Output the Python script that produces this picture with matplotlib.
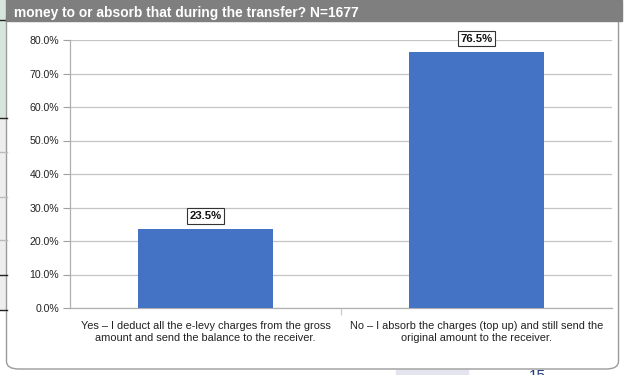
import matplotlib.pyplot as plt
from matplotlib.patches import Rectangle, FancyBboxPatch

plt.rcParams['font.family'] = ['Liberation Sans', 'DejaVu Sans']

# data
categories = ["Yes \u2013 I deduct all the e-levy charges from the gross\namount and send the balance to the receiver.",
              "No \u2013 I absorb the charges (top up) and still send the\noriginal amount to the receiver."]
values = [23.5, 76.5]
yticks = [0, 10, 20, 30, 40, 50, 60, 70, 80]
title = "money to or absorb that during the transfer? N=1677"

W, H = 624, 375
fig = plt.figure(figsize=(6.24, 3.75), dpi=100)

def px(x, y, w, h):
    # pixel box (top-left origin) -> figure fraction
    return (x / W, 1 - (y + h) / H, w / W, h / H)

# left slide strip
x0, y0, w0, h0 = px(0, 0, 7, 118)
fig.patches.append(Rectangle((x0, y0), w0, h0, transform=fig.transFigure, color="#d7e6dc", zorder=0))
x0, y0, w0, h0 = px(0, 118, 7, 192)
fig.patches.append(Rectangle((x0, y0), w0, h0, transform=fig.transFigure, color="#eeeeee", zorder=0))
for yy, col in [(20, "#222222"), (118, "#222222"), (152, "#bbbbbb"), (197, "#bbbbbb"),
                (240, "#bbbbbb"), (275, "#222222"), (310, "#222222")]:
    fig.add_artist(plt.Line2D([0, 7 / W], [1 - yy / H] * 2, transform=fig.transFigure, color=col, lw=1))

# panel with rounded bottom
x0, y0, w0, h0 = px(6.5, 10, 612, 359)
fig.patches.append(FancyBboxPatch((x0, y0), w0, h0, boxstyle="round,pad=0,rounding_size=0.02",
                                  transform=fig.transFigure, facecolor="white",
                                  edgecolor="#9a9a9a", lw=1, zorder=1))
# gray title bar
x0, y0, w0, h0 = px(6, 0, 616, 21)
fig.patches.append(Rectangle((x0, y0), w0, h0, transform=fig.transFigure, color="#7f7f7f", zorder=2))
fig.text(14 / W, 1 - 16.5 / H, title, color="white", fontsize=9.9, fontweight="bold", zorder=3)

# bottom remnants of slide
x0, y0, w0, h0 = px(396, 370, 72, 6)
fig.patches.append(Rectangle((x0, y0), w0, h0, transform=fig.transFigure, color="#e4e4ee", zorder=0))
fig.text(529 / W, 1 - 380 / H, "15", color="#1f3b7a", fontsize=11, zorder=3)

ax = fig.add_axes([70 / W, 1 - 308 / H, 542 / W, 268 / H])
ax.set_zorder(3)
ax.patch.set_alpha(0)
xs = range(len(values))
ax.bar(xs, values, width=0.5, color="#4472c4", zorder=3)
ax.set_xlim(-0.5, 1.5)
ax.set_ylim(0, 80)
ax.set_yticks(yticks)
ax.set_yticklabels([f"{v:.1f}%" for v in yticks], fontsize=7.6, color="#222222")
ax.yaxis.grid(True, color="#c4c4c4", lw=0.9, zorder=0)
ax.set_xticks([0.5])
ax.set_xticklabels([])
ax.tick_params(axis="y", length=5, color="#a0a0a0", pad=3)
ax.tick_params(axis="x", length=5, color="#c8c8c8")
for s in ["top", "right"]:
    ax.spines[s].set_visible(False)
for s in ["left", "bottom"]:
    ax.spines[s].set_color("#b0b0b0")
    ax.spines[s].set_linewidth(0.9)

for i, lab in enumerate(categories):
    ax.text(i, -3.9, lab, ha="center", va="top", fontsize=7.9, color="#222222", linespacing=1.3)
for i, v in enumerate(values):
    ax.annotate(f"{v:.1f}%", (i, v), xytext=(0, 9.5), textcoords="offset points", ha="center",
                va="center", fontsize=8.2, fontweight="bold", color="#111111",
                bbox=dict(boxstyle="square,pad=0.25", facecolor="white", edgecolor="#333333", lw=0.8),
                zorder=5)

fig.savefig("out.png", dpi=100)
